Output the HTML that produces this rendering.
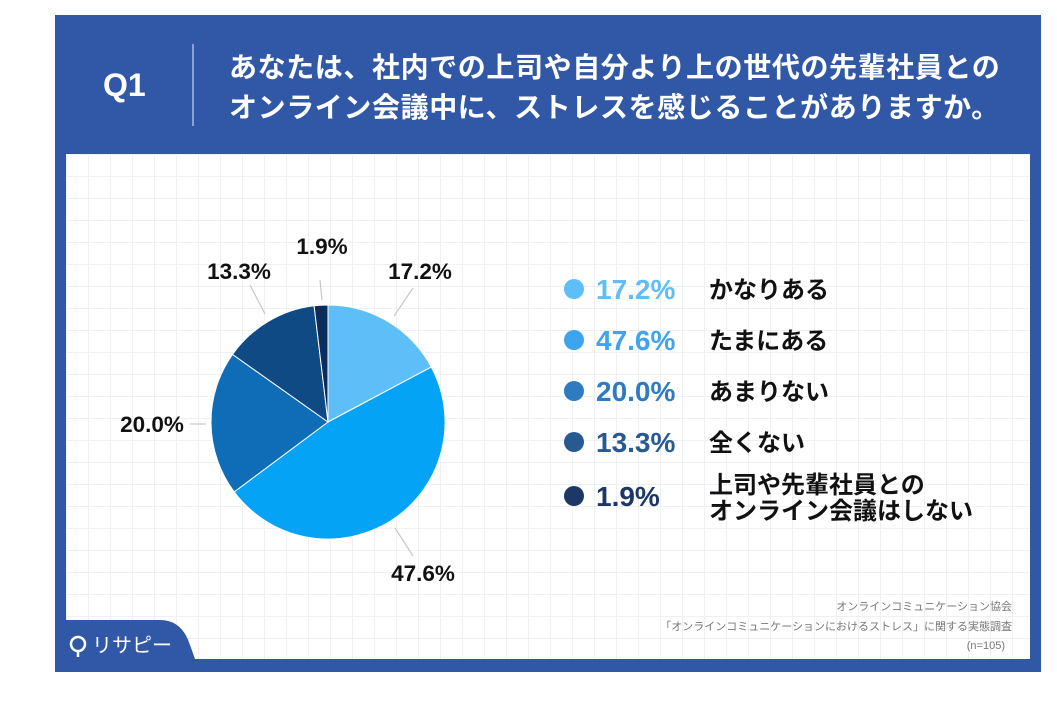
<!DOCTYPE html>
<html><head><meta charset="utf-8"><style>
html,body{margin:0;padding:0;background:#fff;}
body{width:1057px;height:705px;position:relative;overflow:hidden;font-family:"Liberation Sans","Noto Sans CJK JP",sans-serif;}
.frame{position:absolute;left:55px;top:15px;width:986px;height:657px;background:#3158a6;}
.panel{position:absolute;left:66px;top:154px;width:964px;height:505px;background-color:#fff;
background-image:linear-gradient(#eef0f3 1px,transparent 1px),linear-gradient(90deg,#eef0f3 1px,transparent 1px);background-size:22px 22px;}
.t{position:absolute;white-space:nowrap;}
</style></head><body>
<div class="frame"></div>
<div class="t" style="left:103px;top:67px;font-size:32px;font-weight:bold;color:#fff;">Q1</div>
<div style="position:absolute;left:192px;top:44px;width:2px;height:82px;background:#8aa3d6;"></div>
<div class="t" style="left:229px;top:48px;font-size:28px;font-weight:bold;color:#fff;line-height:40px;letter-spacing:0.6px;">あなたは、社内での上司や自分より上の世代の先輩社員との<br>オンライン会議中に、ストレスを感じることがありますか。</div>
<div class="panel"></div>
<svg style="position:absolute;left:0;top:0" width="1057" height="705">
<path d="M55,620 H160 Q182,620 190,645 L195,659 H55 Z" fill="#3158a6"/>
<g stroke="#fff" stroke-width="1">
<path d="M328,422 L328,305 A117,117 0 0,1 431.3,367 Z" fill="#5dbef8"/>
<path d="M328,422 L431.3,367 A117,117 0 0,1 234.2,491.9 Z" fill="#05a3f5"/>
<path d="M328,422 L234.2,491.9 A117,117 0 0,1 232.5,354.4 Z" fill="#0f6cb7"/>
<path d="M328,422 L232.5,354.4 A117,117 0 0,1 314.1,305.8 Z" fill="#104a85"/>
<path d="M328,422 L314.1,305.8 A117,117 0 0,1 328,305 Z" fill="#0c2c5c"/>
</g>
<g stroke="#c8c8c8" stroke-width="1.2">
<line x1="394" y1="316" x2="413" y2="288"/>
<line x1="265" y1="314" x2="250" y2="285"/>
<line x1="322" y1="300" x2="320" y2="280"/>
<line x1="395" y1="528" x2="413" y2="556"/>
<line x1="190" y1="424" x2="206" y2="424"/>
</g>
<g font-family="Liberation Sans, sans-serif" font-weight="bold" font-size="22.5" fill="#111" text-anchor="middle">
<text x="322" y="254">1.9%</text>
<text x="239" y="279">13.3%</text>
<text x="420" y="279">17.2%</text>
<text x="152" y="432">20.0%</text>
<text x="423" y="581">47.6%</text>
</g>
<circle cx="574" cy="289" r="10" fill="#5dbef8"/>
<circle cx="574" cy="340" r="10" fill="#3ea4ef"/>
<circle cx="574" cy="391" r="10" fill="#2e7bc1"/>
<circle cx="574" cy="442" r="10" fill="#285a92"/>
<circle cx="574" cy="496" r="10" fill="#1d3766"/>
<g font-family="Liberation Sans, sans-serif" font-weight="bold" font-size="28">
<text x="596" y="299" fill="#5dbef8">17.2%</text>
<text x="596" y="350" fill="#3ea4ef">47.6%</text>
<text x="596" y="401" fill="#2e7bc1">20.0%</text>
<text x="596" y="452" fill="#285a92">13.3%</text>
<text x="596" y="506" fill="#1d3766">1.9%</text>
</g>
<g font-family="Liberation Sans, Noto Sans CJK JP, sans-serif" font-weight="bold" font-size="24" fill="#111">
<text x="709" y="298">かなりある</text>
<text x="709" y="349">たまにある</text>
<text x="709" y="400">あまりない</text>
<text x="709" y="451">全くない</text>
<text x="709" y="493">上司や先輩社員との</text>
<text x="709" y="519">オンライン会議はしない</text>
</g>
<g font-family="Liberation Sans, Noto Sans CJK JP, sans-serif" font-size="11" fill="#777" text-anchor="end">
<text x="1012" y="610">オンラインコミュニケーション協会</text>
<text x="1012" y="630">「オンラインコミュニケーションにおけるストレス」に関する実態調査</text>
<text x="1005" y="649">(n=105)</text>
</g>
<circle cx="78" cy="644" r="7" fill="none" stroke="#fff" stroke-width="2.5"/>
<line x1="78" y1="651" x2="78" y2="657" stroke="#fff" stroke-width="2.5"/>
<text x="92" y="652" font-family="Liberation Sans, Noto Sans CJK JP, sans-serif" font-size="20" fill="#fff">リサピー</text>
</svg>
</body></html>
